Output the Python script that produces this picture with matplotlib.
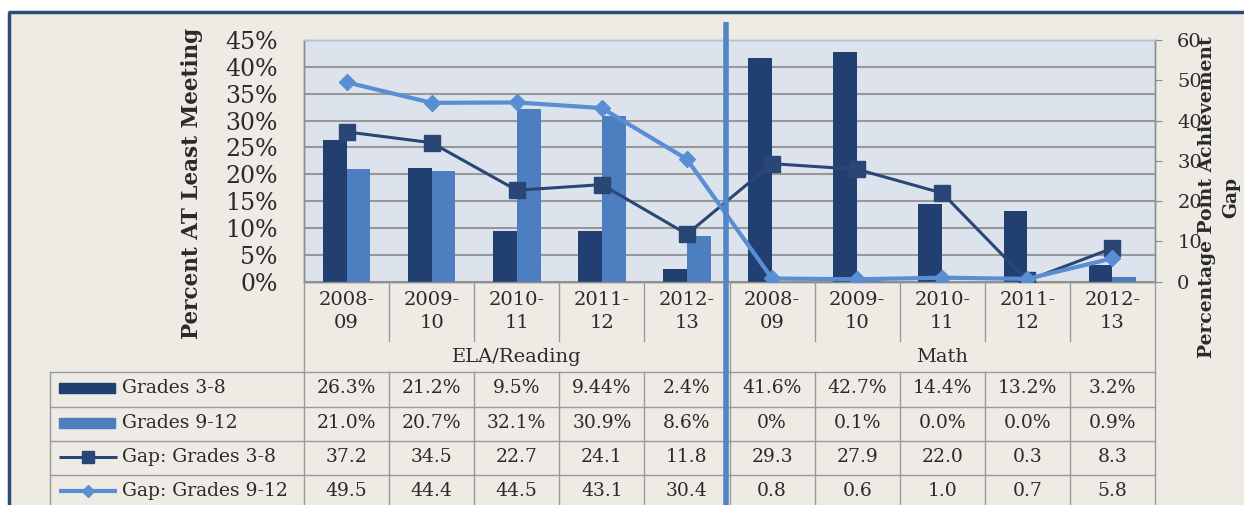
import matplotlib
matplotlib.use("Agg")
import matplotlib.pyplot as plt
import matplotlib.transforms as mtransforms
from matplotlib.patches import Rectangle
import numpy as np

plt.rcParams['font.family'] = ['DejaVu Serif']

# ---------------- data ----------------
years = ["2008-\n09", "2009-\n10", "2010-\n11", "2011-\n12", "2012-\n13"] * 2
subjects = ["ELA/Reading", "Math"]
grades_3_8 = [26.3, 21.2, 9.5, 9.44, 2.4, 41.6, 42.7, 14.4, 13.2, 3.2]
grades_9_12 = [21.0, 20.7, 32.1, 30.9, 8.6, 0.0, 0.1, 0.0, 0.0, 0.9]
gap_3_8 = [37.2, 34.5, 22.7, 24.1, 11.8, 29.3, 27.9, 22.0, 0.3, 8.3]
gap_9_12 = [49.5, 44.4, 44.5, 43.1, 30.4, 0.8, 0.6, 1.0, 0.7, 5.8]
table_3_8 = ["26.3%", "21.2%", "9.5%", "9.44%", "2.4%",
             "41.6%", "42.7%", "14.4%", "13.2%", "3.2%"]
table_9_12 = ["21.0%", "20.7%", "32.1%", "30.9%", "8.6%",
              "0%", "0.1%", "0.0%", "0.0%", "0.9%"]
series_names = ["Grades 3-8", "Grades 9-12", "Gap: Grades 3-8", "Gap: Grades 9-12"]
pct_ticks = [0, 5, 10, 15, 20, 25, 30, 35, 40, 45]
gap_ticks = [0, 10, 20, 30, 40, 50, 60]
left_label = "Percent AT Least Meeting"
right_label = "Percentage Point Achievement\nGap"

# ---------------- style ----------------
BG = "#EEEBE4"
PLOT_BG = "#DCE3ED"
DARK = "#213F70"
LIGHT = "#4D7EBF"
GAP1 = "#2A4674"
GAP2 = "#5A8ED2"
GRID = "#989898"
TABLE_LINE = "#9A9A9A"
FRAME = "#2B4B7B"
VLINE = "#4F86C6"
TXT = "#2A2A2A"

W, H = 1244, 505
fig = plt.figure(figsize=(W / 100, H / 100), dpi=100, facecolor=BG)

px_left, px_right, px_top, px_bottom = 304, 1155, 40, 281.7
ax = fig.add_axes([px_left / W, 1 - px_bottom / H,
                   (px_right - px_left) / W, (px_bottom - px_top) / H])
ax.set_facecolor(PLOT_BG)
x = np.arange(len(grades_3_8))
bw = 0.28
ax.bar(x - bw / 2, grades_3_8, width=bw, color=DARK, zorder=3)
ax.bar(x + bw / 2, grades_9_12, width=bw, color=LIGHT, zorder=3)
ax.set_xlim(-0.5, len(x) - 0.5)
ax.set_ylim(0, 45)
ax.set_yticks(pct_ticks)
ax.set_yticklabels([f"{t}%" for t in pct_ticks])
ax.yaxis.grid(True, color=GRID, lw=1.5)
ax.set_axisbelow(True)
ax.tick_params(axis='y', length=0, pad=19, labelsize=17, colors=TXT)
ax.set_xticks(x)
ax.set_xticklabels(years, linespacing=1.35)
ax.tick_params(axis='x', length=0, pad=7, labelsize=14, colors=TXT)
for s in ax.spines.values():
    s.set_color("#8C8C8C")
    s.set_linewidth(1)
ax.spines['top'].set_color("#AFC1D8")

ax2 = ax.twinx()
ax2.set_ylim(0, 60)
ax2.plot(x, gap_3_8, color=GAP1, lw=2.2, marker='s', ms=11, zorder=4)
ax2.plot(x, gap_9_12, color=GAP2, lw=3, marker='D', ms=8, zorder=5)
ax2.set_yticks(gap_ticks)
ax2.tick_params(axis='y', length=5, color="#8C8C8C", pad=11, labelsize=14,
                labelcolor=TXT)
for s in ax2.spines.values():
    s.set_color("#8C8C8C")
    s.set_linewidth(1)
ax2.spines['top'].set_color("#AFC1D8")

# ---------------- overlay (pixel coordinates) ----------------
ov = fig.add_axes([0, 0, 1, 1])
ov.set_autoscale_on(False)
ov.set_xlim(0, W)
ov.set_ylim(H, 0)
ov.axis('off')
bt = mtransforms.blended_transform_factory(ax.transData, ov.transData)

# white margin and frame
ov.add_patch(Rectangle((0, 0), W, 10.5, color='white', zorder=1))
ov.add_patch(Rectangle((0, 0), 7, H, color='white', zorder=1))
ov.plot([7.5, W], [12, 12], color=FRAME, lw=2.5, solid_capstyle='butt', zorder=2)
ov.plot([9, 9], [12, H], color=FRAME, lw=2.5, solid_capstyle='butt', zorder=2)

# category separators below the axis
n = len(x)
for k in range(n + 1):
    b = k - 0.5
    group_edge = k in (0, 5, n)
    y_end = 372 if group_edge else 341
    ov.plot([b, b], [px_bottom, y_end], color=TABLE_LINE, lw=1, transform=bt)
    ov.plot([b, b], [372, H], color=TABLE_LINE, lw=1, transform=bt)

# group labels
ov.text(2, 357, subjects[0], transform=bt, ha='center', va='center', fontsize=14,
        color=TXT)
ov.text(7, 357, subjects[1], transform=bt, ha='center', va='center', fontsize=14,
        color=TXT)

# table
row_edges = [372, 406.5, 441, 475, 509]
tbl_left = 50
ov.plot([tbl_left, tbl_left], [372, H], color=TABLE_LINE, lw=1)
for ye in row_edges[:-1]:
    ov.plot([tbl_left, px_right], [ye, ye], color=TABLE_LINE, lw=1)

row_text = [table_3_8, table_9_12,
            [f"{v:.1f}" for v in gap_3_8], [f"{v:.1f}" for v in gap_9_12]]
for r in range(4):
    yc = (row_edges[r] + row_edges[r + 1]) / 2 - 1
    for k in range(n):
        ov.text(k, yc, row_text[r][k], transform=bt, ha='center', va='center',
                fontsize=13.5, color=TXT)
    ov.text(122, yc, series_names[r], ha='left', va='center', fontsize=13.5,
            color=TXT)
    if r == 0:
        ov.add_patch(Rectangle((59, yc - 5), 56, 10, color=DARK))
    elif r == 1:
        ov.add_patch(Rectangle((59, yc - 5), 56, 10, color=LIGHT))
    elif r == 2:
        ov.plot([59, 117], [yc, yc], color=GAP1, lw=2.2, solid_capstyle='butt')
        ov.plot([88], [yc], marker='s', ms=8, color=GAP1)
    else:
        ov.plot([59, 117], [yc, yc], color=GAP2, lw=3, solid_capstyle='butt')
        ov.plot([88], [yc], marker='D', ms=6, color=GAP2)

# axis titles
ov.text(192, 183, left_label, rotation=90, ha='center', va='center',
        fontsize=15.5, fontweight='bold', color=TXT)
ov.text(1219, 197, right_label, rotation=90, ha='center', va='center',
        multialignment='center', fontsize=13.5, fontweight='bold',
        linespacing=1.45, color=TXT)

# thick separating line between subjects
ov.plot([4.46, 4.46], [22, H], color=VLINE, lw=4, transform=bt, zorder=10,
        solid_capstyle='butt')

fig.savefig("out.png", dpi=100, facecolor=BG)
